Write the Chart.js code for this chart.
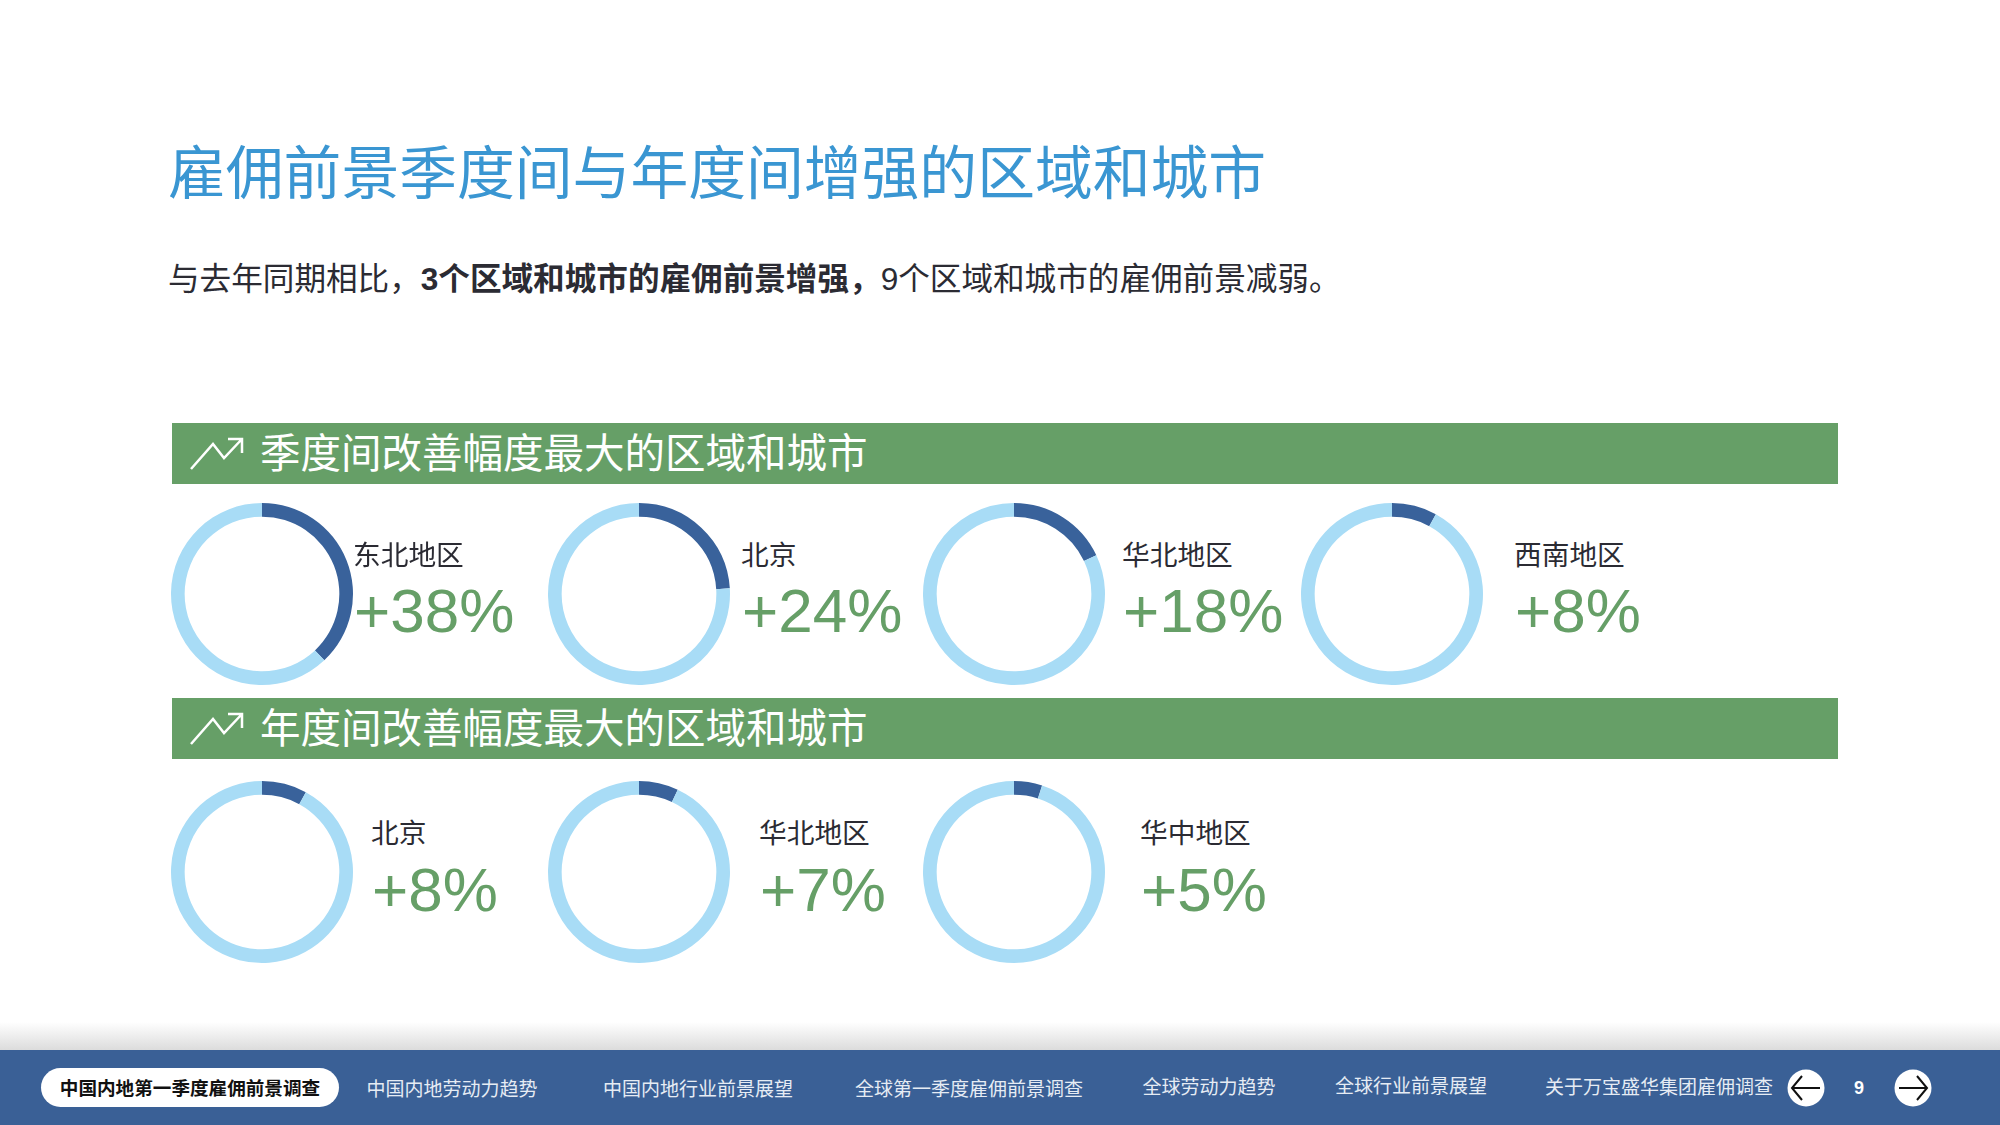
<!DOCTYPE html>
<html lang="zh-CN">
<head>
<meta charset="UTF-8" />
<title>雇佣前景</title>
<script src="https://cdn.jsdelivr.net/npm/chart.js"></script>
<style>
  html, body { margin: 0; padding: 0; background: #fff; }
  body { width: 2000px; height: 1125px; position: relative; overflow: hidden;
         font-family: "Liberation Sans", "Noto Sans CJK SC", sans-serif; color: #2b2b33; }
  .abs { position: absolute; white-space: nowrap; line-height: 1; }
  #title { left: 168px; top: 146px; font-size: 57.8px; color: #3a96d2; }
  #sub { left: 168px; top: 264px; font-size: 31.6px; }
  .band { position: absolute; left: 172px; width: 1666px; height: 61px; background: #669f67; }
  .band span { position: absolute; left: 88px; top: 11px; font-size: 40.5px; line-height: 1; color: #fff; white-space: nowrap; }
  .band svg { position: absolute; left: 16px; top: 13px; }
  canvas { position: absolute; }
  .name { font-size: 27.7px; }
  .val { font-size: 62px; color: #669f67; }
  #footer { position: absolute; left: 0; top: 1050px; width: 2000px; height: 75px; background: #3a6096; }
  #shade { position: absolute; left: 0; top: 1022px; width: 2000px; height: 28px;
           background: linear-gradient(#ffffff, #dcdcdc); }
  #pill { position: absolute; left: 41px; top: 1068px; width: 298px; height: 39px; border-radius: 20px; background: #fff; }
  .nav { position: absolute; font-size: 19px; line-height: 1; color: #e6ecf4; white-space: nowrap; transform: translateX(-50%); }
  .round { position: absolute; top: 1069px; }
</style>
</head>
<body>
<div id="title" class="abs">雇佣前景季度间与年度间增强的区域和城市</div>
<div id="sub" class="abs">与去年同期相比，<b>3个区域和城市的雇佣前景增强，</b>9个区域和城市的雇佣前景减弱。</div>

<div class="band" style="top:423px">
  <svg width="60" height="40" viewBox="0 0 60 40" fill="none" stroke="#fff" stroke-width="2.5"><path d="M3 33 L25 8 L36 22 L54 3 M40 3 H54 V17"/></svg>
  <span>季度间改善幅度最大的区域和城市</span>
</div>
<div class="band" style="top:698px">
  <svg width="60" height="40" viewBox="0 0 60 40" fill="none" stroke="#fff" stroke-width="2.5"><path d="M3 33 L25 8 L36 22 L54 3 M40 3 H54 V17"/></svg>
  <span>年度间改善幅度最大的区域和城市</span>
</div>

<div id="shade"></div>
<div id="footer"></div>
<div id="pill"></div>
<svg class="round" style="left:1787px" width="38" height="38" viewBox="0 0 38 38"><circle cx="19" cy="19" r="18.5" fill="#fff"/><path d="M5 19 H33 M15 7 L5 19 L15 31" fill="none" stroke="#111" stroke-width="2"/></svg>
<svg class="round" style="left:1894px" width="38" height="38" viewBox="0 0 38 38"><circle cx="19" cy="19" r="18.5" fill="#fff"/><path d="M5 19 H33 M23 7 L33 19 L23 31" fill="none" stroke="#111" stroke-width="2"/></svg>
<div class="abs" style="left:1854px;top:1079px;font-size:18px;font-weight:bold;color:#fff">9</div>

<script>
// data
const quarterRegions = ['东北地区', '北京', '华北地区', '西南地区'];
const quarterValues = [38, 24, 18, 8];
const yearRegions = ['北京', '华北地区', '华中地区'];
const yearValues = [8, 7, 5];
const navItems = ['中国内地第一季度雇佣前景调查', '中国内地劳动力趋势', '中国内地行业前景展望', '全球第一季度雇佣前景调查', '全球劳动力趋势', '全球行业前景展望', '关于万宝盛华集团雇佣调查'];

// layout
const ringX = [262, 638.5, 1014, 1391.5];
const quarterTextX = [354, 742, 1123, 1515];
const yearTextX = [372, 760, 1141];
const navX = [190, 452, 698, 969, 1209, 1411, 1659];
const navY = [1080, 1080, 1080, 1080, 1078, 1077, 1078];

function addRing(value, cx, cy) {
  const c = document.createElement('canvas');
  c.width = 200; c.height = 200;
  c.style.left = (cx - 100) + 'px';
  c.style.top = (cy - 100) + 'px';
  document.body.appendChild(c);
  new Chart(c, {
    type: 'doughnut',
    data: { datasets: [{ data: [value, 100 - value], backgroundColor: ['#39629b', '#a8dcf6'], borderWidth: 0 }] },
    options: {
      responsive: false, animation: false, radius: 91, cutout: '85%',
      plugins: { legend: { display: false }, tooltip: { enabled: false } }
    }
  });
}

function addText(cls, text, x, y) {
  const d = document.createElement('div');
  d.className = 'abs ' + cls;
  d.textContent = text;
  d.style.left = x + 'px';
  d.style.top = y + 'px';
  document.body.appendChild(d);
}

quarterRegions.forEach((r, i) => {
  addRing(quarterValues[i], ringX[i], 594);
  addText('name', r, quarterTextX[i] - 1, 542);
  addText('val', '+' + quarterValues[i] + '%', quarterTextX[i], 580);
});
yearRegions.forEach((r, i) => {
  addRing(yearValues[i], ringX[i], 872);
  addText('name', r, yearTextX[i] - 1, 820);
  addText('val', '+' + yearValues[i] + '%', yearTextX[i], 859);
});

navItems.forEach((t, i) => {
  const d = document.createElement('div');
  d.className = 'nav';
  d.textContent = t;
  d.style.left = navX[i] + 'px';
  d.style.top = navY[i] + 'px';
  if (i === 0) { d.style.color = '#111'; d.style.fontWeight = 'bold'; d.style.fontSize = '18.6px'; }
  document.body.appendChild(d);
});
</script>
</body>
</html>
